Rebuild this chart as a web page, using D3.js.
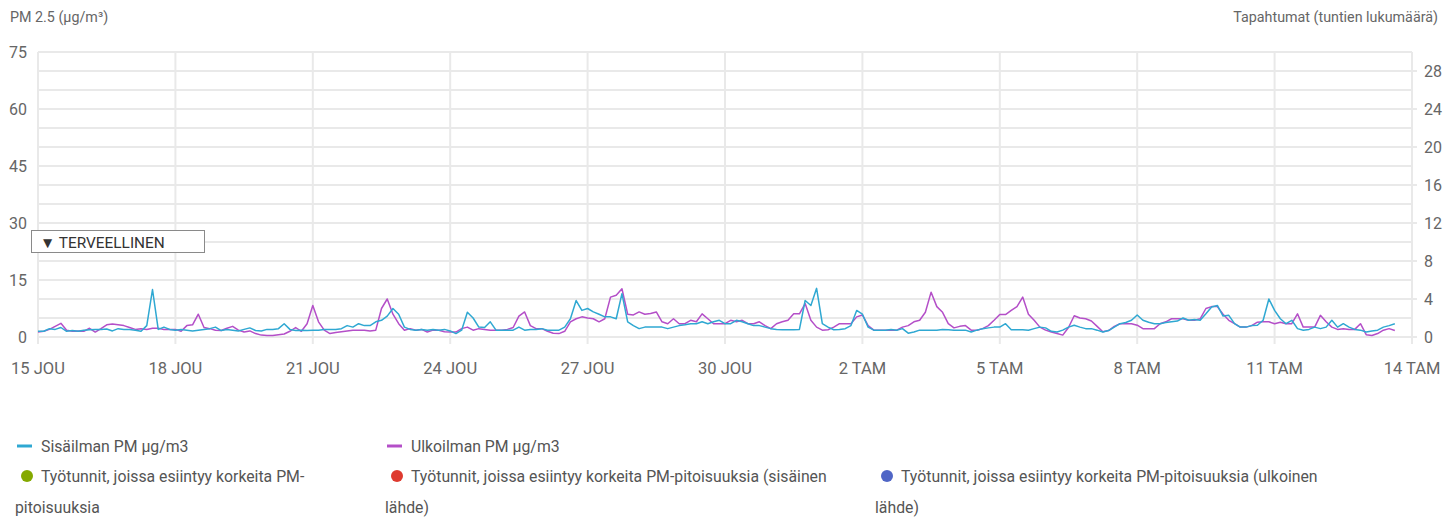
<!DOCTYPE html>
<html><head><meta charset="utf-8">
<script src="https://cdn.jsdelivr.net/npm/d3@7"></script>
<style>body{margin:0;background:#fff;font-family:Roboto,"Noto Sans",sans-serif;}</style>
</head><body><svg id="c" width="1443" height="517"></svg>
<script>
const startDate = new Date(2023, 11, 15, 0, 0);
const endDate = new Date(2024, 0, 14, 0, 0);
const stepHours = 3;
const indoorPM = [
1.5,1.5,2.2,2.0,2.5,1.5,1.7,1.5,1.8,1.9,
2.0,2.0,2.1,1.6,2.2,2.0,2.0,1.8,1.5,3.0,
12.5,2.0,2.6,2.0,1.8,2.0,1.8,1.6,1.8,2.0,
2.2,2.6,1.7,2.0,1.8,1.6,2.0,2.4,1.7,1.6,
2.0,2.0,2.2,3.5,2.0,1.7,1.8,1.7,1.8,1.8,
2.0,2.0,2.0,2.2,3.0,2.6,3.5,3.0,3.0,4.0,
4.4,5.5,7.5,6.0,2.6,2.0,1.8,2.0,1.8,2.0,
1.8,2.0,1.6,0.9,1.8,6.5,5.0,2.6,2.5,4.0,
1.8,1.8,1.8,1.8,2.6,1.8,2.0,2.0,2.2,1.8,
1.8,1.8,2.6,4.8,9.6,7.0,7.5,6.6,6.0,5.3,
5.3,4.8,11.4,4.0,3.0,2.2,2.6,2.6,2.6,2.6,
2.2,2.6,3.0,3.2,3.5,3.5,4.0,3.5,4.0,4.4,
3.5,3.5,4.4,4.0,3.5,3.0,3.0,2.6,2.2,2.0,
1.9,1.9,1.9,2.0,9.6,8.3,12.8,3.5,2.6,1.9,
2.0,2.2,3.0,7.0,6.0,2.6,1.8,1.8,1.8,2.0,
1.8,2.2,1.0,1.3,1.8,1.8,1.8,1.8,2.0,1.9,
1.8,1.8,1.8,1.3,1.8,2.2,2.4,2.6,2.6,3.5,
1.9,1.9,1.9,1.8,2.2,2.6,2.4,1.5,1.3,1.8,
2.6,3.1,2.6,2.2,2.2,1.8,1.3,1.7,2.6,3.5,
3.8,4.4,5.8,4.4,3.9,3.5,3.5,3.8,4.0,4.2,
5.0,4.4,4.6,4.4,6.1,7.9,8.3,5.5,5.7,3.5,
2.6,2.6,3.0,3.1,4.4,10.0,7.0,4.8,3.5,4.4,
2.2,1.8,2.0,2.6,2.2,2.6,4.4,2.6,3.5,2.6,
2.0,1.8,1.3,1.6,1.8,2.6,3.0,3.5];
const outdoorPM = [
1.3,1.5,2.0,2.8,3.6,1.8,1.5,1.6,1.5,2.3,
1.3,2.2,3.2,3.4,3.2,3.0,2.5,2.0,2.2,2.0,
2.3,2.3,2.0,2.0,2.0,1.5,3.0,3.2,6.0,2.5,
2.2,1.8,1.7,2.3,2.8,1.8,1.3,1.6,0.9,0.5,
0.4,0.4,0.6,0.8,1.5,2.5,1.5,3.5,8.3,4.0,
1.8,0.9,1.2,1.4,1.6,1.8,1.8,1.8,1.6,1.8,
7.5,10.0,6.0,3.5,1.8,2.2,1.8,2.0,1.3,1.8,
1.8,1.4,1.3,1.3,2.2,2.6,1.8,2.2,2.0,1.8,
1.8,1.8,2.0,2.5,5.5,6.6,3.0,2.2,2.2,1.5,
1.0,0.9,1.5,4.0,4.8,5.3,5.0,4.8,4.0,4.8,
10.5,11.0,12.7,6.0,5.8,6.6,6.0,6.2,6.6,4.0,
3.5,4.8,3.5,3.5,4.4,4.0,6.1,4.8,3.5,3.5,
3.5,4.4,4.0,4.4,3.5,3.5,4.0,3.0,2.2,3.5,
4.0,4.4,6.1,6.1,8.8,4.4,2.6,1.8,1.9,2.6,
3.5,3.5,3.5,5.3,5.8,3.0,1.8,1.8,1.8,1.8,
1.8,2.6,3.0,4.0,4.4,6.5,11.8,8.0,6.5,3.5,
2.4,2.8,3.0,1.8,1.8,2.2,3.0,4.4,5.9,5.9,
7.0,8.0,10.5,6.0,4.4,2.6,1.8,1.3,0.9,0.5,
2.5,5.6,5.0,4.8,4.2,2.8,1.4,1.7,2.8,3.5,
3.5,3.5,3.1,2.2,2.2,2.2,3.5,4.0,4.8,4.8,
4.8,4.4,4.4,4.8,7.5,8.0,8.0,6.0,4.4,3.5,
2.6,2.6,3.0,3.9,4.0,4.0,3.5,3.9,3.5,3.5,
6.1,2.6,2.6,2.6,5.7,4.0,2.6,2.0,2.2,2.0,
2.0,3.5,0.6,0.4,0.9,1.8,2.2,1.7];
const xTickDates = [[2023,11,15],[2023,11,18],[2023,11,21],[2023,11,24],[2023,11,27],[2023,11,30],[2024,0,2],[2024,0,5],[2024,0,8],[2024,0,11],[2024,0,14]];
const xTickLabels = ["15 JOU","18 JOU","21 JOU","24 JOU","27 JOU","30 JOU","2 TAM","5 TAM","8 TAM","11 TAM","14 TAM"];
const leftTicks = [0,15,30,45,60,75];
const rightTicks = [0,4,8,12,16,20,24,28];
const leftTitle = "PM 2.5 (µg/m³)";
const rightTitle = "Tapahtumat (tuntien lukumäärä)";
const thresholdLabel = "▼ TERVEELLINEN";
const thresholdValue = 25;
const seriesNames = ["Sisäilman PM µg/m3","Ulkoilman PM µg/m3"];
const eventNames = [
  ["Työtunnit, joissa esiintyy korkeita PM-","pitoisuuksia"],
  ["Työtunnit, joissa esiintyy korkeita PM-pitoisuuksia (sisäinen","lähde)"],
  ["Työtunnit, joissa esiintyy korkeita PM-pitoisuuksia (ulkoinen","lähde)"]];

const colors = {indoor:"#2fa8d2", outdoor:"#b44fc8", green:"#84a900", red:"#de3a2f", blue:"#5066c6"};
const svg = d3.select("#c");
const L=38, R=1412, T=52, B=337;
const x = d3.scaleTime().domain([startDate,endDate]).range([L,R]);
const y = d3.scaleLinear().domain([0,75]).range([B,T]);
const y2 = d3.scaleLinear().domain([0,30]).range([B,T]);
const grid = "#e9e9e9";
const g = svg.append("g");
g.selectAll("line.h").data(d3.range(0,76,5)).join("line")
  .attr("x1",L).attr("x2",R).attr("y1",d=>y(d)).attr("y2",d=>y(d))
  .attr("stroke",grid).attr("stroke-width",2);
g.selectAll("line.rt").data(rightTicks).join("line")
  .attr("x1",R).attr("x2",R+5).attr("y1",d=>y2(d)).attr("y2",d=>y2(d))
  .attr("stroke",grid).attr("stroke-width",2);
const tickDates = xTickDates.map(d=>new Date(d[0],d[1],d[2]));
g.selectAll("line.v").data(tickDates).join("line")
  .attr("x1",d=>x(d)).attr("x2",d=>x(d)).attr("y1",T).attr("y2",B+7)
  .attr("stroke",grid).attr("stroke-width",2);
const lab = "#666";
svg.selectAll("text.yl").data(leftTicks).join("text")
  .attr("x",27).attr("y",d=>y(d)).attr("dy","0.35em").attr("text-anchor","end")
  .attr("font-size",16).attr("fill",lab).text(d=>d);
svg.selectAll("text.yr").data(rightTicks).join("text")
  .attr("x",1424).attr("y",d=>y2(d)).attr("dy","0.35em").attr("text-anchor","start")
  .attr("font-size",16).attr("fill",lab).text(d=>d);
svg.selectAll("text.xl").data(tickDates).join("text")
  .attr("x",d=>x(d)).attr("y",374).attr("text-anchor","middle")
  .attr("font-size",16.5).attr("fill",lab).text((d,i)=>xTickLabels[i]);
svg.append("text").attr("x",10).attr("y",22).attr("font-size",14.3).attr("fill",lab).text(leftTitle);
svg.append("text").attr("x",1438).attr("y",22).attr("text-anchor","end").attr("font-size",14.3).attr("fill",lab).text(rightTitle);

const timeAt = i => new Date(startDate.getTime()+i*stepHours*3600000);
const line = d3.line().x((d,i)=>x(timeAt(i))).y(d=>y(d));
svg.append("path").datum(outdoorPM).attr("d",line).attr("fill","none").attr("stroke",colors.outdoor).attr("stroke-width",1.5).attr("stroke-linejoin","round");
svg.append("path").datum(indoorPM).attr("d",line).attr("fill","none").attr("stroke",colors.indoor).attr("stroke-width",1.5).attr("stroke-linejoin","round");

const by = y(thresholdValue);
svg.append("rect").attr("x",31.5).attr("y",by-11.5).attr("width",173).attr("height",22)
  .attr("fill","#fff").attr("stroke","#8a8a8a").attr("stroke-width",1);
svg.append("text").attr("x",40).attr("y",by+5.5).attr("font-size",15.4).attr("fill","#333").text(thresholdLabel);

const lg = svg.append("g").attr("font-size",15.8).attr("fill","#555");
const lines2 = [[17,seriesNames[0],colors.indoor],[387,seriesNames[1],colors.outdoor]];
lines2.forEach(([lx,t,c])=>{
  lg.append("line").attr("x1",lx).attr("x2",lx+15).attr("y1",446).attr("y2",446).attr("stroke",c).attr("stroke-width",3);
  lg.append("text").attr("x",lx+24).attr("y",451.5).text(t);
});
const evs = [[17,eventNames[0],colors.green],[387,eventNames[1],colors.red],[877,eventNames[2],colors.blue]];
evs.forEach(([lx,t,c])=>{
  lg.append("circle").attr("cx",lx+10).attr("cy",476).attr("r",6).attr("fill",c);
  lg.append("text").attr("x",lx+24).attr("y",481.5).text(t[0]);
  lg.append("text").attr("x",lx-2).attr("y",513).text(t[1]);
});
</script></body></html>
